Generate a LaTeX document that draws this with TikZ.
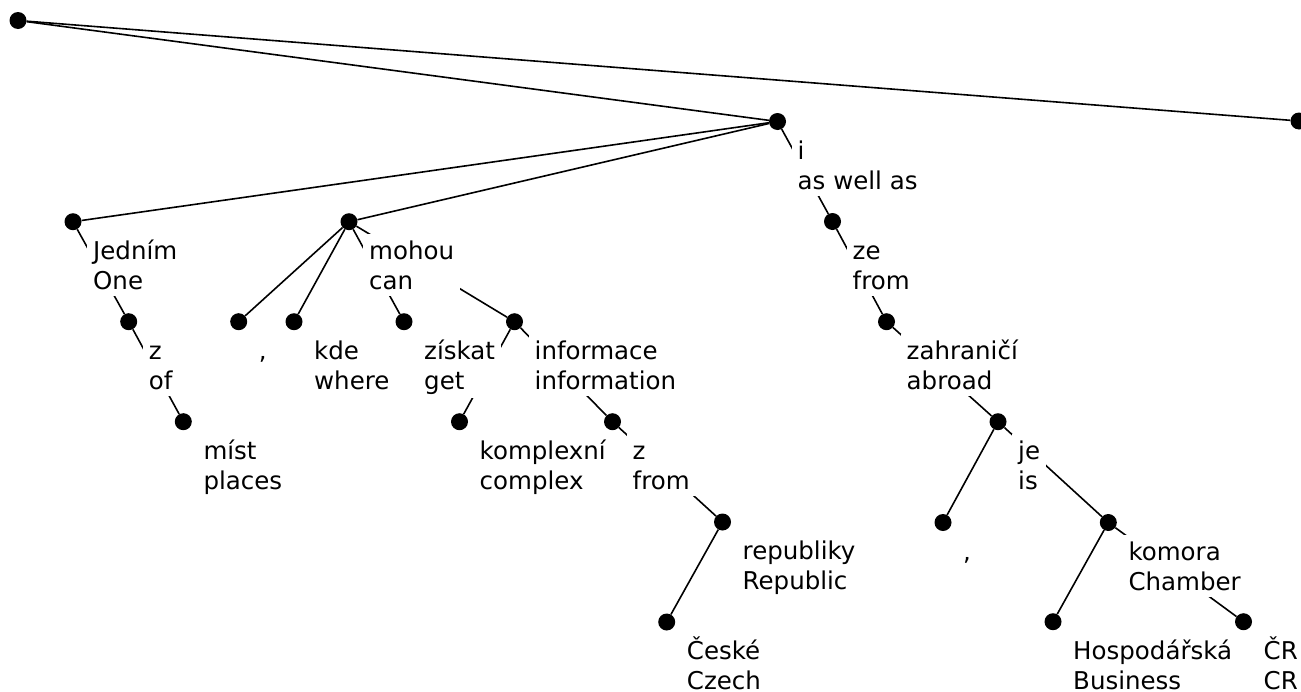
\documentclass[tikz,border=0pt]{standalone}
\usepackage{fontspec}
\setmainfont{DejaVu Sans}
% uniform line height for the two-line word labels
\newcommand\lstrut{\rule[-3pt]{0pt}{24pt}}
% a token's word and its gloss, stacked; the node's baseline is the first line's
\newcommand\wordlabel[3]{%
  \node[lbl] (#1-l) at ([shift={(14,37.6)}]#1.center)
    {\vtop{\hbox{\lstrut#2}\hbox{\lstrut#3}}};}
\begin{document}
\begin{tikzpicture}[x=1pt,y=-1pt,
  dot/.style={circle,fill=black,inner sep=0pt,minimum size=17pt},
  lbl/.style={anchor=base west,fill=white,inner xsep=6pt,inner ysep=4pt,
              font=\fontsize{24.5}{30}\selectfont},
  edge/.style={line width=1.6pt}]
\useasboundingbox (0,0) rectangle (1301,691);

% token dots
\node[dot] (root) at (18,20.5) {};
\node[dot] (iw)   at (777.5,121.5) {};
\node[dot] (per)  at (1299,121) {};
\node[dot] (jed)  at (73,221.7) {};
\node[dot] (moh)  at (349,221.7) {};
\node[dot] (ze)   at (832.5,221.5) {};
\node[dot] (zof)  at (128.7,321.7) {};
\node[dot] (c1)   at (238.7,321.7) {};
\node[dot] (kde)  at (294,321.7) {};
\node[dot] (zis)  at (404,321.7) {};
\node[dot] (inf)  at (514.5,321.7) {};
\node[dot] (zah)  at (886.5,321.7) {};
\node[dot] (mist) at (183.3,421.7) {};
\node[dot] (kom)  at (459.5,421.7) {};
\node[dot] (zfr)  at (612.5,421.7) {};
\node[dot] (je)   at (998,421.7) {};
\node[dot] (rep)  at (722.5,522) {};
\node[dot] (c2)   at (943,522.5) {};
\node[dot] (komo) at (1108.3,522.5) {};
\node[dot] (ces)  at (666.7,622) {};
\node[dot] (hos)  at (1053,621.7) {};
\node[dot] (cr)   at (1243.5,621.7) {};

% dependency edges
\foreach \a/\b in {root/iw, root/per, iw/jed, iw/moh, iw/ze, jed/zof, zof/mist,
                   moh/c1, moh/kde, moh/zis, moh/inf, inf/kom, inf/zfr, zfr/rep,
                   rep/ces, ze/zah, zah/je, je/c2, je/komo, komo/hos, komo/cr}
  \draw[edge] (\a) -- (\b);

% word labels (white background hides the edges passing beneath)
\wordlabel{iw}{i}{as well as}
\wordlabel{jed}{Jedním}{One}
\wordlabel{moh}{mohou}{can}
\wordlabel{ze}{ze}{from}
\wordlabel{zof}{z}{of}
\wordlabel{c1}{,}{}
\wordlabel{kde}{kde}{where}
\wordlabel{zis}{získat}{get}
\wordlabel{inf}{informace}{information}
\wordlabel{zah}{zahraničí}{abroad}
\wordlabel{mist}{míst}{places}
\wordlabel{kom}{komplexní}{complex}
\wordlabel{zfr}{z}{from}
\wordlabel{je}{je}{is}
\wordlabel{rep}{republiky}{Republic}
\wordlabel{c2}{,}{}
\wordlabel{komo}{komora}{Chamber}
\wordlabel{ces}{České}{Czech}
\wordlabel{hos}{Hospodářská}{Business}
\wordlabel{cr}{ČR}{CR}
\end{tikzpicture}
\end{document}
